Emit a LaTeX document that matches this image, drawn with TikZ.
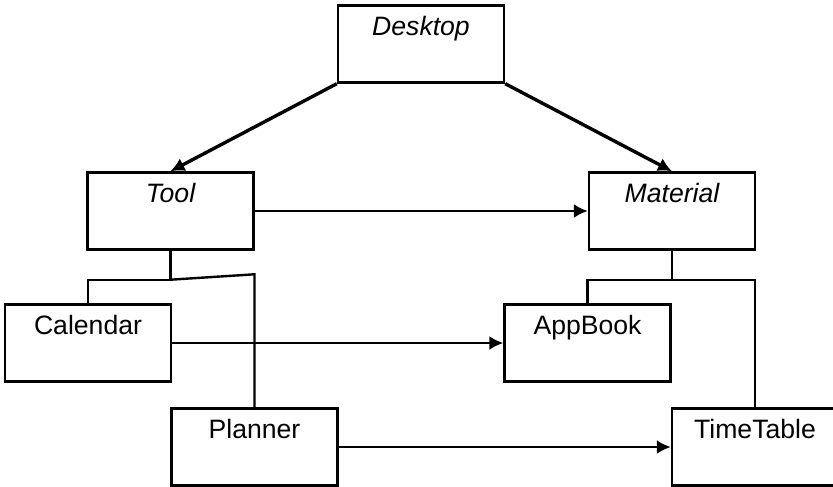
\documentclass[tikz,border=0pt]{standalone}
\usepackage{fontspec}
\setmainfont{Liberation Sans}
\usetikzlibrary{arrows.meta,calc,positioning}
\newcommand{\boxwd}{83pt}
\newcommand{\boxht}{38.5pt}
\tikzset{
    boxsty/.style={draw,line width=1.2pt,rectangle,inner sep=0pt,minimum width=\boxwd,minimum height=\boxht,text height=15pt,text depth=23.5pt,font=\fontsize{13.3}{16}\selectfont},
    absty/.style={boxsty,font=\fontsize{13.3}{16}\selectfont\itshape},
    arrsty/.style={line width=1.2pt,-{Latex[length=7pt,width=7pt]}},
    inhsty/.style={line width=1.7pt,-{Latex[length=7pt,width=7pt]}},
    linesty/.style={line width=1.2pt},
}

\begin{document}
\begin{tikzpicture}[x=0.5pt,y=-0.5pt]
  \useasboundingbox (0,0) rectangle (833,486);

  \node[absty]  (desk) at (421,44)    {Desktop};
  \node[absty]  (tool) at (170.5,211) {Tool};
  \node[absty]  (mat)  at (672,211)   {Material};
  \node[boxsty] (cal)  at (88,343)    {Calendar};
  \node[boxsty] (app)  at (587.5,343) {AppBook};
  \node[boxsty] (plan) at (254.5,447) {Planner};
  \node[boxsty] (tt)   at (755,447)   {TimeTable};

  \draw[inhsty] (desk.south west) -- (tool.north);
  \draw[inhsty] (desk.south east) -- (mat.north);

  \draw[arrsty] (tool.east) -- (mat.west);
  \draw[arrsty] (cal.east) -- (app.west);
  \draw[arrsty] (plan.east) -- (tt.west);

  \coordinate (tooljoin) at ($(tool.south)+(0,29)$);
  \coordinate (planknee) at ($(plan.north)+(0,-133)$);
  \draw[linesty] (tool.south) -- (tooljoin) -| (cal.north);
  \draw[linesty] (tooljoin) -- (planknee) -- (plan.north);

  \coordinate (matjoin) at ($(mat.south)+(0,29)$);
  \draw[linesty] (mat.south) -- (matjoin);
  \draw[linesty] (app.north) |- (matjoin) -| (tt.north);
\end{tikzpicture}
\end{document}
